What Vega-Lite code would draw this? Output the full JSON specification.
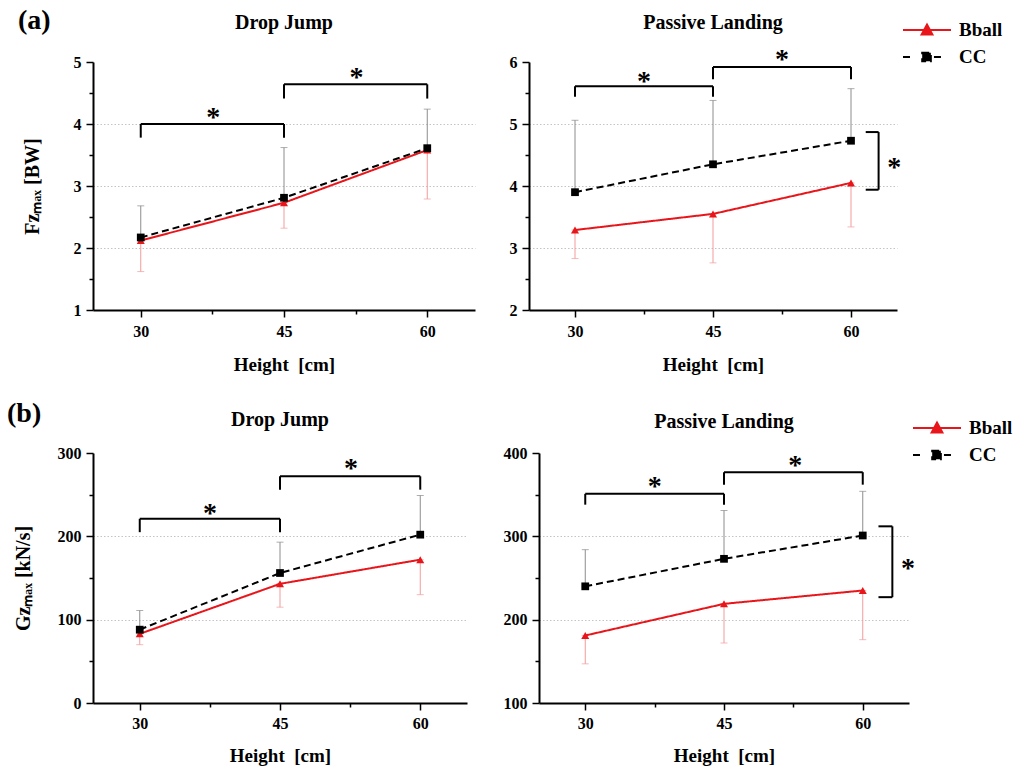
{
  "$schema": "https://vega.github.io/schema/vega-lite/v6.json",
  "padding": {"left": 7, "top": 7, "right": 2, "bottom": 1},
  "background": "white",
  "config": {
    "font": "Liberation Serif",
    "view": {"stroke": null},
    "axis": {
      "labelFont": "Liberation Serif", "labelFontSize": 16, "labelFontWeight": "bold", "labelColor": "#000",
      "titleFont": "Liberation Serif", "titleFontSize": 19, "titleFontWeight": "bold", "titleColor": "#000",
      "domainColor": "#000", "domainWidth": 2, "tickColor": "#000", "tickWidth": 1.5,
      "gridColor": "#c4c4c4", "gridDash": [1.5, 2], "gridWidth": 1,
      "labelOverlap": false, "labelFlush": false, "labelPadding": 5
    },
    "title": {"font": "Liberation Serif", "fontSize": 20, "fontWeight": "bold", "color": "#000", "frame": "group", "baseline": "alphabetic"}
  },
  "datasets": {
    "means": [
      {"panel": "A", "group": "Bball", "x": 30, "y": 2.12, "err": 1.62},
      {"panel": "A", "group": "Bball", "x": 45, "y": 2.73, "err": 2.32},
      {"panel": "A", "group": "Bball", "x": 60, "y": 3.58, "err": 2.79},
      {"panel": "A", "group": "CC", "x": 30, "y": 2.17, "err": 2.68},
      {"panel": "A", "group": "CC", "x": 45, "y": 2.81, "err": 3.62},
      {"panel": "A", "group": "CC", "x": 60, "y": 3.61, "err": 4.24},
      {"panel": "B", "group": "Bball", "x": 30, "y": 3.29, "err": 2.83},
      {"panel": "B", "group": "Bball", "x": 45, "y": 3.55, "err": 2.76},
      {"panel": "B", "group": "Bball", "x": 60, "y": 4.05, "err": 3.34},
      {"panel": "B", "group": "CC", "x": 30, "y": 3.9, "err": 5.06},
      {"panel": "B", "group": "CC", "x": 45, "y": 4.35, "err": 5.38},
      {"panel": "B", "group": "CC", "x": 60, "y": 4.73, "err": 5.57},
      {"panel": "C", "group": "Bball", "x": 30, "y": 83, "err": 70},
      {"panel": "C", "group": "Bball", "x": 45, "y": 143, "err": 115},
      {"panel": "C", "group": "Bball", "x": 60, "y": 172, "err": 130},
      {"panel": "C", "group": "CC", "x": 30, "y": 88, "err": 111},
      {"panel": "C", "group": "CC", "x": 45, "y": 156, "err": 193},
      {"panel": "C", "group": "CC", "x": 60, "y": 202, "err": 249},
      {"panel": "D", "group": "Bball", "x": 30, "y": 181, "err": 147},
      {"panel": "D", "group": "Bball", "x": 45, "y": 219, "err": 172},
      {"panel": "D", "group": "Bball", "x": 60, "y": 235, "err": 176},
      {"panel": "D", "group": "CC", "x": 30, "y": 240, "err": 284},
      {"panel": "D", "group": "CC", "x": 45, "y": 273, "err": 331},
      {"panel": "D", "group": "CC", "x": 60, "y": 301, "err": 354}
    ],
    "brackets": [
      {"panel": "A", "x": 30, "x2": 45, "y": 4.0, "y2": 4.0},
      {"panel": "A", "x": 30, "x2": 30, "y": 4.0, "y2": 3.78},
      {"panel": "A", "x": 45, "x2": 45, "y": 4.0, "y2": 3.78},
      {"panel": "A", "x": 45, "x2": 60, "y": 4.64, "y2": 4.64},
      {"panel": "A", "x": 45, "x2": 45, "y": 4.64, "y2": 4.41},
      {"panel": "A", "x": 60, "x2": 60, "y": 4.64, "y2": 4.41},
      {"panel": "B", "x": 30, "x2": 45, "y": 5.61, "y2": 5.61},
      {"panel": "B", "x": 30, "x2": 30, "y": 5.61, "y2": 5.44},
      {"panel": "B", "x": 45, "x2": 45, "y": 5.61, "y2": 5.44},
      {"panel": "B", "x": 45, "x2": 60, "y": 5.92, "y2": 5.92},
      {"panel": "B", "x": 45, "x2": 45, "y": 5.92, "y2": 5.72},
      {"panel": "B", "x": 60, "x2": 60, "y": 5.92, "y2": 5.72},
      {"panel": "B", "x": 61.6, "x2": 63.0, "y": 4.87, "y2": 4.87},
      {"panel": "B", "x": 63.0, "x2": 63.0, "y": 4.87, "y2": 3.94},
      {"panel": "B", "x": 61.6, "x2": 63.0, "y": 3.94, "y2": 3.94},
      {"panel": "C", "x": 30, "x2": 45, "y": 221, "y2": 221},
      {"panel": "C", "x": 30, "x2": 30, "y": 221, "y2": 205},
      {"panel": "C", "x": 45, "x2": 45, "y": 221, "y2": 205},
      {"panel": "C", "x": 45, "x2": 60, "y": 272, "y2": 272},
      {"panel": "C", "x": 45, "x2": 45, "y": 272, "y2": 256},
      {"panel": "C", "x": 60, "x2": 60, "y": 272, "y2": 256},
      {"panel": "D", "x": 30, "x2": 45, "y": 351, "y2": 351},
      {"panel": "D", "x": 30, "x2": 30, "y": 351, "y2": 338},
      {"panel": "D", "x": 45, "x2": 45, "y": 351, "y2": 338},
      {"panel": "D", "x": 45, "x2": 60, "y": 377, "y2": 377},
      {"panel": "D", "x": 45, "x2": 45, "y": 377, "y2": 362},
      {"panel": "D", "x": 60, "x2": 60, "y": 377, "y2": 362},
      {"panel": "D", "x": 61.7, "x2": 63.2, "y": 312, "y2": 312},
      {"panel": "D", "x": 63.2, "x2": 63.2, "y": 312, "y2": 227},
      {"panel": "D", "x": 61.7, "x2": 63.2, "y": 227, "y2": 227}
    ],
    "stars": [
      {"panel": "A", "x": 37.6, "y": 4.18},
      {"panel": "A", "x": 52.6, "y": 4.82},
      {"panel": "B", "x": 37.5, "y": 5.76},
      {"panel": "B", "x": 52.5, "y": 6.11},
      {"panel": "B", "x": 64.7, "y": 4.37},
      {"panel": "C", "x": 37.5, "y": 233},
      {"panel": "C", "x": 52.6, "y": 287},
      {"panel": "D", "x": 37.5, "y": 365},
      {"panel": "D", "x": 52.7, "y": 391},
      {"panel": "D", "x": 64.9, "y": 267}
    ]
  },
  "spacing": 26,
  "resolve": {"scale": {"color": "independent", "fill": "independent", "strokeDash": "independent"}, "legend": {"color": "independent"}},
  "vconcat": [
    {
      "title": {"text": "(a)", "anchor": "start", "fontSize": 28, "offset": -22, "dx": -75},
      "spacing": 34,
      "resolve": {"scale": {"color": "independent", "fill": "independent", "strokeDash": "independent"}, "legend": {"color": "independent"}},
      "hconcat": [
        {
          "width": 382, "height": 248,
          "title": {"text": "Drop Jump", "offset": 21},
          "encoding": {
            "x": {"field": "x", "type": "quantitative", "scale": {"domain": [25, 65], "nice": false, "zero": false},
              "axis": {"title": "Height\u00a0 [cm]", "values": [30, 37.5, 45, 52.5, 60], "labelExpr": "datum.value % 15 == 0 ? format(datum.value, 'd') : ''", "tickSize": {"condition": {"test": "datum.value % 15 != 0", "value": 4}, "value": 7}, "labelPadding": 6, "titlePadding": 16, "grid": false}},
            "y": {"field": "y", "type": "quantitative", "scale": {"domain": [1, 5], "nice": false, "zero": false},
              "axis": {"title": "Fzₘₐₓ [BW]", "titleFontSize": 20, "titlePadding": 31, "values": [1, 1.5, 2, 2.5, 3, 3.5, 4, 4.5, 5], "labelExpr": "datum.value % 1 == 0 ? format(datum.value, 'd') : ''", "tickSize": {"condition": {"test": "datum.value % 1 != 0", "value": 4}, "value": 7}, "grid": true, "gridOpacity": {"condition": {"test": "datum.value % 1 != 0 || datum.value <= 1 || datum.value >= 5", "value": 0}, "value": 1}}}
          },
          "layer": [
            {"data": {"name": "means"}, "transform": [{"filter": "datum.panel == 'A' && datum.group == 'Bball'"}], "mark": {"type": "errorbar", "color": "#f29b9b", "ticks": {"size": 7, "thickness": 1}, "rule": {"strokeWidth": 1}}, "encoding": {"y2": {"field": "err"}}},
            {"data": {"name": "means"}, "transform": [{"filter": "datum.panel == 'A' && datum.group == 'CC'"}], "mark": {"type": "errorbar", "color": "#8c8c8c", "ticks": {"size": 7, "thickness": 1}, "rule": {"strokeWidth": 1}}, "encoding": {"y2": {"field": "err"}}},
            {"data": {"name": "means"}, "transform": [{"filter": "datum.panel == 'A'"}], "mark": {"type": "line", "strokeWidth": 2},
              "encoding": {"color": {"field": "group", "type": "nominal", "scale": {"domain": ["Bball", "CC"], "range": ["#e8161b", "#000000"]}, "legend": null},
                "strokeDash": {"field": "group", "type": "nominal", "scale": {"domain": ["Bball", "CC"], "range": [[1, 0], [7, 4]]}, "legend": null}}},
            {"data": {"name": "means"}, "transform": [{"filter": "datum.panel == 'A' && datum.group == 'Bball'"}], "mark": {"type": "point", "shape": "triangle-up", "filled": true, "opacity": 1, "size": 65, "color": "#e8161b"}},
            {"data": {"name": "means"}, "transform": [{"filter": "datum.panel == 'A' && datum.group == 'CC'"}], "mark": {"type": "point", "shape": "square", "filled": true, "opacity": 1, "size": 60, "color": "#000000"}},
            {"data": {"name": "brackets"}, "transform": [{"filter": "datum.panel == 'A'"}], "mark": {"type": "rule", "strokeWidth": 2, "color": "#000"}, "encoding": {"x2": {"field": "x2"}, "y2": {"field": "y2"}}},
            {"data": {"name": "stars"}, "transform": [{"filter": "datum.panel == 'A'"}], "mark": {"type": "text", "text": "*", "fontSize": 28, "fontWeight": "bold", "font": "Liberation Serif", "baseline": "alphabetic", "dy": 13, "color": "#000"}}
          ]
        },
        {
          "width": 368, "height": 248,
          "title": {"text": "Passive Landing", "offset": -16},
          "encoding": {
            "x": {"field": "x", "type": "quantitative", "scale": {"domain": [25, 65], "nice": false, "zero": false},
              "axis": {"title": "Height\u00a0 [cm]", "values": [30, 37.5, 45, 52.5, 60], "labelExpr": "datum.value % 15 == 0 ? format(datum.value, 'd') : ''", "tickSize": {"condition": {"test": "datum.value % 15 != 0", "value": 4}, "value": 7}, "labelPadding": 6, "titlePadding": 16, "grid": false}},
            "y": {"field": "y", "type": "quantitative", "scale": {"domain": [2, 6], "nice": false, "zero": false},
              "axis": {"title": null, "values": [2, 2.5, 3, 3.5, 4, 4.5, 5, 5.5, 6], "labelExpr": "datum.value % 1 == 0 ? format(datum.value, 'd') : ''", "tickSize": {"condition": {"test": "datum.value % 1 != 0", "value": 4}, "value": 7}, "grid": true, "gridOpacity": {"condition": {"test": "datum.value % 1 != 0 || datum.value <= 2 || datum.value >= 6", "value": 0}, "value": 1}}}
          },
          "layer": [
            {"data": {"name": "means"}, "transform": [{"filter": "datum.panel == 'B' && datum.group == 'Bball'"}], "mark": {"type": "errorbar", "color": "#f29b9b", "ticks": {"size": 7, "thickness": 1}, "rule": {"strokeWidth": 1}}, "encoding": {"y2": {"field": "err"}}},
            {"data": {"name": "means"}, "transform": [{"filter": "datum.panel == 'B' && datum.group == 'CC'"}], "mark": {"type": "errorbar", "color": "#8c8c8c", "ticks": {"size": 7, "thickness": 1}, "rule": {"strokeWidth": 1}}, "encoding": {"y2": {"field": "err"}}},
            {"data": {"name": "means"}, "transform": [{"filter": "datum.panel == 'B'"}], "mark": {"type": "line", "strokeWidth": 2},
              "encoding": {"color": {"field": "group", "type": "nominal", "scale": {"domain": ["Bball", "CC"], "range": ["#e8161b", "#000000"]},
                  "legend": {"orient": "none", "legendX": 373, "legendY": -45, "title": null, "padding": 0, "labelFont": "Liberation Serif", "labelFontSize": 19, "labelFontWeight": "bold", "labelColor": "#000", "symbolSize": 576, "labelOffset": 31, "rowPadding": 4,
                    "encode": {"symbols": {"update": {
                      "shape": {"signal": "datum.value === 'Bball' ? 'M-1,0H3M0.55,0.38L1,-0.45L1.45,0.38Z' : 'M-1,0H-0.33M0.6,-0.36H1.32V0.36H0.6ZM1.58,0H2.33'"},
                      "fill": {"signal": "datum.value === 'Bball' ? '#e8161b' : '#000000'"},
                      "stroke": {"signal": "datum.value === 'Bball' ? '#e8161b' : '#000000'"},
                      "strokeDash": {"value": []}, "strokeWidth": {"value": 2}, "opacity": {"value": 1}}}}}},
                "strokeDash": {"field": "group", "type": "nominal", "scale": {"domain": ["Bball", "CC"], "range": [[1, 0], [7, 4]]}, "legend": null}}},
            {"data": {"name": "means"}, "transform": [{"filter": "datum.panel == 'B' && datum.group == 'Bball'"}], "mark": {"type": "point", "shape": "triangle-up", "filled": true, "opacity": 1, "size": 65, "color": "#e8161b"}},
            {"data": {"name": "means"}, "transform": [{"filter": "datum.panel == 'B' && datum.group == 'CC'"}], "mark": {"type": "point", "shape": "square", "filled": true, "opacity": 1, "size": 60, "color": "#000000"}},
            {"data": {"name": "brackets"}, "transform": [{"filter": "datum.panel == 'B'"}], "mark": {"type": "rule", "strokeWidth": 2, "color": "#000"}, "encoding": {"x2": {"field": "x2"}, "y2": {"field": "y2"}}},
            {"data": {"name": "stars"}, "transform": [{"filter": "datum.panel == 'B'"}], "mark": {"type": "text", "text": "*", "fontSize": 28, "fontWeight": "bold", "font": "Liberation Serif", "baseline": "alphabetic", "dy": 13, "color": "#000"}}
          ]
        }
      ]
    },
    {
      "title": {"text": "(b)", "anchor": "start", "fontSize": 28, "offset": -18, "dx": -86},
      "spacing": 36,
      "resolve": {"scale": {"color": "independent", "fill": "independent", "strokeDash": "independent"}, "legend": {"color": "independent"}},
      "hconcat": [
        {
          "width": 374, "height": 250,
          "title": {"text": "Drop Jump", "offset": 15},
          "encoding": {
            "x": {"field": "x", "type": "quantitative", "scale": {"domain": [25, 65], "nice": false, "zero": false},
              "axis": {"title": "Height\u00a0 [cm]", "values": [30, 37.5, 45, 52.5, 60], "labelExpr": "datum.value % 15 == 0 ? format(datum.value, 'd') : ''", "tickSize": {"condition": {"test": "datum.value % 15 != 0", "value": 4}, "value": 7}, "labelPadding": 5, "titlePadding": 15, "grid": false}},
            "y": {"field": "y", "type": "quantitative", "scale": {"domain": [0, 300], "nice": false, "zero": false},
              "axis": {"title": "Gzₘₐₓ [kN/s]", "titleFontSize": 20, "titlePadding": 24, "values": [0, 50, 100, 150, 200, 250, 300], "labelExpr": "datum.value % 100 == 0 ? format(datum.value, 'd') : ''", "tickSize": {"condition": {"test": "datum.value % 100 != 0", "value": 4}, "value": 7}, "grid": true, "gridOpacity": {"condition": {"test": "datum.value % 100 != 0 || datum.value <= 0 || datum.value >= 300", "value": 0}, "value": 1}}}
          },
          "layer": [
            {"data": {"name": "means"}, "transform": [{"filter": "datum.panel == 'C' && datum.group == 'Bball'"}], "mark": {"type": "errorbar", "color": "#f29b9b", "ticks": {"size": 7, "thickness": 1}, "rule": {"strokeWidth": 1}}, "encoding": {"y2": {"field": "err"}}},
            {"data": {"name": "means"}, "transform": [{"filter": "datum.panel == 'C' && datum.group == 'CC'"}], "mark": {"type": "errorbar", "color": "#8c8c8c", "ticks": {"size": 7, "thickness": 1}, "rule": {"strokeWidth": 1}}, "encoding": {"y2": {"field": "err"}}},
            {"data": {"name": "means"}, "transform": [{"filter": "datum.panel == 'C'"}], "mark": {"type": "line", "strokeWidth": 2},
              "encoding": {"color": {"field": "group", "type": "nominal", "scale": {"domain": ["Bball", "CC"], "range": ["#e8161b", "#000000"]}, "legend": null},
                "strokeDash": {"field": "group", "type": "nominal", "scale": {"domain": ["Bball", "CC"], "range": [[1, 0], [7, 4]]}, "legend": null}}},
            {"data": {"name": "means"}, "transform": [{"filter": "datum.panel == 'C' && datum.group == 'Bball'"}], "mark": {"type": "point", "shape": "triangle-up", "filled": true, "opacity": 1, "size": 65, "color": "#e8161b"}},
            {"data": {"name": "means"}, "transform": [{"filter": "datum.panel == 'C' && datum.group == 'CC'"}], "mark": {"type": "point", "shape": "square", "filled": true, "opacity": 1, "size": 60, "color": "#000000"}},
            {"data": {"name": "brackets"}, "transform": [{"filter": "datum.panel == 'C'"}], "mark": {"type": "rule", "strokeWidth": 2, "color": "#000"}, "encoding": {"x2": {"field": "x2"}, "y2": {"field": "y2"}}},
            {"data": {"name": "stars"}, "transform": [{"filter": "datum.panel == 'C'"}], "mark": {"type": "text", "text": "*", "fontSize": 28, "fontWeight": "bold", "font": "Liberation Serif", "baseline": "alphabetic", "dy": 13, "color": "#000"}}
          ]
        },
        {
          "width": 370, "height": 250,
          "title": {"text": "Passive Landing", "offset": -17},
          "encoding": {
            "x": {"field": "x", "type": "quantitative", "scale": {"domain": [25, 65], "nice": false, "zero": false},
              "axis": {"title": "Height\u00a0 [cm]", "values": [30, 37.5, 45, 52.5, 60], "labelExpr": "datum.value % 15 == 0 ? format(datum.value, 'd') : ''", "tickSize": {"condition": {"test": "datum.value % 15 != 0", "value": 4}, "value": 7}, "labelPadding": 5, "titlePadding": 15, "grid": false}},
            "y": {"field": "y", "type": "quantitative", "scale": {"domain": [100, 400], "nice": false, "zero": false},
              "axis": {"title": null, "values": [100, 150, 200, 250, 300, 350, 400], "labelExpr": "datum.value % 100 == 0 ? format(datum.value, 'd') : ''", "tickSize": {"condition": {"test": "datum.value % 100 != 0", "value": 4}, "value": 7}, "grid": true, "gridOpacity": {"condition": {"test": "datum.value % 100 != 0 || datum.value <= 100 || datum.value >= 400", "value": 0}, "value": 1}}}
          },
          "layer": [
            {"data": {"name": "means"}, "transform": [{"filter": "datum.panel == 'D' && datum.group == 'Bball'"}], "mark": {"type": "errorbar", "color": "#f29b9b", "ticks": {"size": 7, "thickness": 1}, "rule": {"strokeWidth": 1}}, "encoding": {"y2": {"field": "err"}}},
            {"data": {"name": "means"}, "transform": [{"filter": "datum.panel == 'D' && datum.group == 'CC'"}], "mark": {"type": "errorbar", "color": "#8c8c8c", "ticks": {"size": 7, "thickness": 1}, "rule": {"strokeWidth": 1}}, "encoding": {"y2": {"field": "err"}}},
            {"data": {"name": "means"}, "transform": [{"filter": "datum.panel == 'D'"}], "mark": {"type": "line", "strokeWidth": 2},
              "encoding": {"color": {"field": "group", "type": "nominal", "scale": {"domain": ["Bball", "CC"], "range": ["#e8161b", "#000000"]},
                  "legend": {"orient": "none", "legendX": 373, "legendY": -38, "title": null, "padding": 0, "labelFont": "Liberation Serif", "labelFontSize": 19, "labelFontWeight": "bold", "labelColor": "#000", "symbolSize": 576, "labelOffset": 31, "rowPadding": 4,
                    "encode": {"symbols": {"update": {
                      "shape": {"signal": "datum.value === 'Bball' ? 'M-1,0H3M0.55,0.38L1,-0.45L1.45,0.38Z' : 'M-1,0H-0.33M0.6,-0.36H1.32V0.36H0.6ZM1.58,0H2.33'"},
                      "fill": {"signal": "datum.value === 'Bball' ? '#e8161b' : '#000000'"},
                      "stroke": {"signal": "datum.value === 'Bball' ? '#e8161b' : '#000000'"},
                      "strokeDash": {"value": []}, "strokeWidth": {"value": 2}, "opacity": {"value": 1}}}}}},
                "strokeDash": {"field": "group", "type": "nominal", "scale": {"domain": ["Bball", "CC"], "range": [[1, 0], [7, 4]]}, "legend": null}}},
            {"data": {"name": "means"}, "transform": [{"filter": "datum.panel == 'D' && datum.group == 'Bball'"}], "mark": {"type": "point", "shape": "triangle-up", "filled": true, "opacity": 1, "size": 65, "color": "#e8161b"}},
            {"data": {"name": "means"}, "transform": [{"filter": "datum.panel == 'D' && datum.group == 'CC'"}], "mark": {"type": "point", "shape": "square", "filled": true, "opacity": 1, "size": 60, "color": "#000000"}},
            {"data": {"name": "brackets"}, "transform": [{"filter": "datum.panel == 'D'"}], "mark": {"type": "rule", "strokeWidth": 2, "color": "#000"}, "encoding": {"x2": {"field": "x2"}, "y2": {"field": "y2"}}},
            {"data": {"name": "stars"}, "transform": [{"filter": "datum.panel == 'D'"}], "mark": {"type": "text", "text": "*", "fontSize": 28, "fontWeight": "bold", "font": "Liberation Serif", "baseline": "alphabetic", "dy": 13, "color": "#000"}}
          ]
        }
      ]
    }
  ]
}
